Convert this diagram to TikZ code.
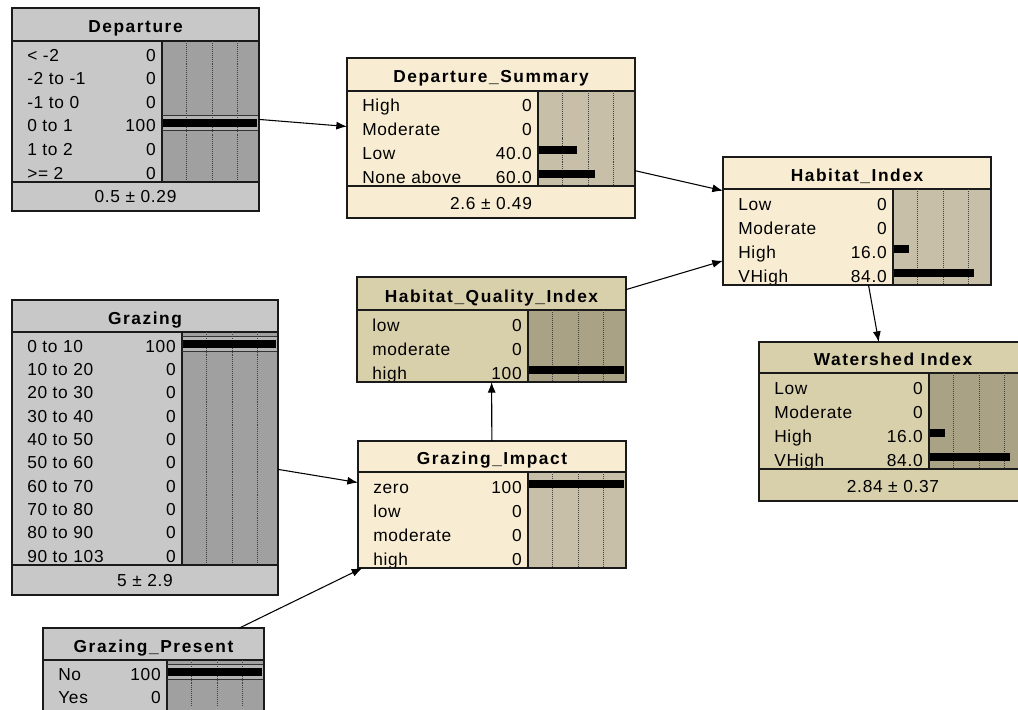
\documentclass[tikz,border=0pt]{standalone}
\usepackage{fontspec}
\setmainfont{Liberation Sans}[LetterSpace=4]
\newfontfamily\titlefont{Liberation Sans}[LetterSpace=9]
\usetikzlibrary{arrows.meta,fit}

% palettes: g = grey, c = cream, t = tan
\definecolor{gbody}{HTML}{C8C8C8}
\definecolor{gbar}{HTML}{A0A0A0}
\definecolor{gband}{HTML}{B4B4B4}
\definecolor{cbody}{HTML}{F8EDD2}
\definecolor{cbar}{HTML}{C8BFA9}
\definecolor{tbody}{HTML}{D8CFAB}
\definecolor{tbar}{HTML}{A9A284}
\definecolor{edgecol}{HTML}{1A1A1A}

\tikzset{
  rowtext/.style={inner sep=0pt, font=\fontsize{13}{15}\selectfont},
  titletext/.style={inner sep=0pt, anchor=base, font=\titlefont\bfseries\fontsize{13}{15}\selectfont},
  sep/.style={draw=edgecol, line width=0.9pt},
  bandline/.style={draw=black!80, line width=0.7pt},
  gridline/.style={draw=black!75, line width=0.4pt, dash pattern=on 0.75pt off 0.75pt},
  link/.style={draw=black, line width=0.8pt, -{Latex[length=8pt,width=6pt]}},
}

% frame, bar area, title  (#1 name, #2 title, #3 x1, #4 y1, #5 x2, #6 y2, #7 title bottom, #8 bar left, #9 palette)
\newcommand\netbox[9]{%
  \node[fit={(#3,#4) (#5,#6)}, inner sep=0pt, outer sep=0pt, fill=#9body] (#1) {};
  \fill[#9bar] (#8,#7) rectangle (#5,#6);
  \draw[sep] (#3,#7) -- (#5,#7);
  \draw[sep] (#8,#7) -- (#8,#6);
  \node[titletext] (#1-title) at ({(#3+#5)/2},{#7-8}) {#2};
}

% state rows (#1 name, #2 x1, #3 title bottom, #4 bar left, #5 x2, #6 row height, #7 label/value/percent/finding)
\newcommand\netrows[7]{%
  \foreach \lab/\val/\pct/\fnd [count=\i] in {#7} {
    \pgfmathsetmacro\rt{#3+(\i-1)*#6}
    \pgfmathsetmacro\rc{\rt+#6/2}
    \pgfmathsetmacro\rb{\rt+#6}
    \node[rowtext, anchor=base west] (#1-l\i) at ({#2+15},{\rb-3}) {\lab};
    \node[rowtext, anchor=base east] (#1-v\i) at ({#4-6},{\rb-3}) {\val};
    \ifnum\fnd=1
      \fill[gband] ({#4+0.6},{\rc-7.5}) rectangle (#5,{\rc+7.5});
      \draw[bandline] (#4,{\rc-7.5}) -- (#5,{\rc-7.5}) (#4,{\rc+7.5}) -- (#5,{\rc+7.5});
    \fi
    \foreach \q in {24.5,50,75} \draw[gridline] ({#4+\q},\rt) -- ({#4+\q},\rb);
    \ifdim\pct pt>0pt
      \fill[black] ({#4+0.6},{\rc-4}) rectangle ({#4+1+\pct/100*(#5-#4-3)},{\rc+4});
    \fi
  }
}

% footer with mean and deviation (#1 name, #2 x1, #3 top, #4 x2, #5 y2, #6 text, #7 palette)
\newcommand\netfoot[7]{%
  \fill[#7body] (#2,#3) rectangle (#4,#5);
  \draw[sep] (#2,#3) -- (#4,#3);
  \node[rowtext, anchor=base] (#1-foot) at ({(#2+#4)/2},{#5-8.5}) {#6};
}

\newcommand\netclose[1]{\draw[sep] (#1.south west) rectangle (#1.north east);}

\begin{document}
\begin{tikzpicture}[x=0.75pt, y=-0.75pt]
  \clip (0,0) rectangle (1018,710);
  \fill[white] (0,0) rectangle (1018,710);

  % Departure
  \netbox{dep}{Departure}{12}{8}{259}{211}{41}{162}{g}
  \netrows{dep}{12}{41}{162}{259}{23.5}{< -2/0/0/0, -2 to -1/0/0/0, -1 to 0/0/0/0, 0 to 1/100/100/1, 1 to 2/0/0/0, >= 2/0/0/0}
  \netfoot{dep}{12}{182}{259}{211}{0.5 ± 0.29}{g}
  \netclose{dep}

  % Departure_Summary
  \netbox{dsum}{Departure\_Summary}{347}{58}{635}{218}{91}{538}{c}
  \netrows{dsum}{347}{91}{538}{635}{23.75}{High/0/0/0, Moderate/0/0/0, Low/40.0/40/0, None above/60.0/60/0}
  \netfoot{dsum}{347}{186}{635}{218}{2.6 ± 0.49}{c}
  \netclose{dsum}

  % Habitat_Index
  \netbox{hab}{Habitat\_Index}{723}{157}{991}{285}{189}{893}{c}
  \netrows{hab}{723}{189}{893}{991}{24}{Low/0/0/0, Moderate/0/0/0, High/16.0/16/0, VHigh/84.0/84/0}
  \netclose{hab}

  % Habitat_Quality_Index
  \netbox{hqi}{Habitat\_Quality\_Index}{357}{277}{626}{382}{310}{528}{t}
  \netrows{hqi}{357}{310}{528}{626}{24}{low/0/0/0, moderate/0/0/0, high/100/100/0}
  \netclose{hqi}

  % Watershed Index
  \netbox{wsi}{Watershed Index}{759}{342}{1027}{501}{373}{929}{t}
  \netrows{wsi}{759}{373}{929}{1027}{24}{Low/0/0/0, Moderate/0/0/0, High/16.0/16/0, VHigh/84.0/84/0}
  \netfoot{wsi}{759}{469}{1027}{501}{2.84 ± 0.37}{t}
  \netclose{wsi}

  % Grazing
  \netbox{graz}{Grazing}{12}{300}{278}{595}{332}{182}{g}
  \netrows{graz}{12}{332}{182}{278}{23.3}{0 to 10/100/100/1, 10 to 20/0/0/0, 20 to 30/0/0/0, 30 to 40/0/0/0, 40 to 50/0/0/0, 50 to 60/0/0/0, 60 to 70/0/0/0, 70 to 80/0/0/0, 80 to 90/0/0/0, 90 to 103/0/0/0}
  \netfoot{graz}{12}{565}{278}{595}{5 ± 2.9}{g}
  \netclose{graz}

  % Grazing_Impact
  \netbox{gimp}{Grazing\_Impact}{358}{441}{626}{568}{472}{528}{c}
  \netrows{gimp}{358}{472}{528}{626}{24}{zero/100/100/0, low/0/0/0, moderate/0/0/0, high/0/0/0}
  \netclose{gimp}

  % Grazing_Present
  \netbox{gpres}{Grazing\_Present}{43}{628}{264}{712}{660}{167}{g}
  \netrows{gpres}{43}{660}{167}{264}{23}{No/100/100/1, Yes/0/0/0}
  \netclose{gpres}

  % links
  \draw[link] (dep) -- (dsum);
  \draw[link] (dsum) -- (hab);
  \draw[link] (hqi) -- (hab);
  \draw[link] (hab) -- (wsi);
  \draw[link] (gimp) -- (hqi);
  \draw[link] (graz) -- (gimp);
  \draw[link] (gpres) -- (gimp);
\end{tikzpicture}
\end{document}
